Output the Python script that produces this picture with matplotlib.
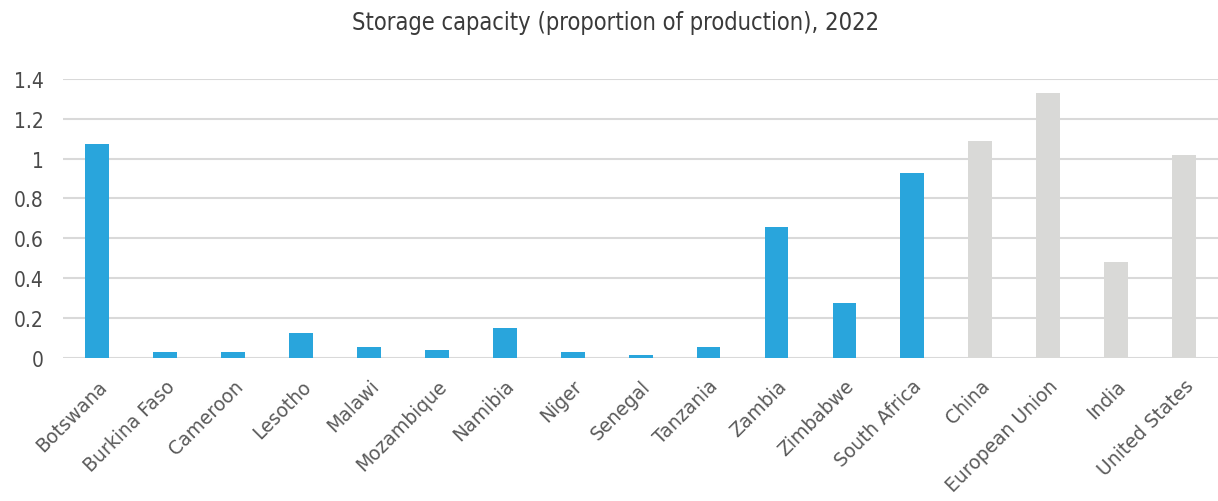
import numpy as np
import matplotlib.pyplot as plt
from matplotlib.ticker import FuncFormatter

plt.rcParams['font.family'] = ['DejaVu Sans']

countries = ['Botswana', 'Burkina Faso', 'Cameroon', 'Lesotho', 'Malawi',
             'Mozambique', 'Namibia', 'Niger', 'Senegal', 'Tanzania',
             'Zambia', 'Zimbabwe', 'South Africa', 'China', 'European Union',
             'India', 'United States']
storage = [1.074, 0.03, 0.03, 0.125, 0.055, 0.04, 0.15, 0.03, 0.015, 0.055,
           0.657, 0.275, 0.927, 1.088, 1.33, 0.483, 1.019]
african = [True] * 13 + [False] * 4

blue = '#29a5dc'
grey = '#d9d9d7'
colors = [blue if a else grey for a in african]

fig = plt.figure(figsize=(12.18, 5.02), dpi=100)
ax = fig.add_axes([0.052, 0.285, 0.948, 0.556])

x = np.arange(len(countries))
ax.bar(x, storage, width=0.35, color=colors, zorder=3)

ax.set_xlim(-0.5, len(countries) - 0.5)
ax.set_ylim(0, 1.4)
ax.set_yticks(np.arange(0, 1.41, 0.2))
ax.yaxis.set_major_formatter(FuncFormatter(lambda v, p: f'{v:g}'))
ax.grid(axis='y', color='#d9d9d9', linewidth=1.5, zorder=0)
ax.set_axisbelow(True)
for s in ax.spines.values():
    s.set_visible(False)

ax.tick_params(axis='y', length=0, pad=14)
for lbl in ax.get_yticklabels():
    lbl.set_fontsize(15)
    lbl.set_fontstretch('condensed')
    lbl.set_color('#4a4a4a')

ax.tick_params(axis='x', length=0, pad=13)
ax.set_xticks(x)
ax.set_xticklabels(countries, rotation=45, ha='right', rotation_mode='anchor',
                   fontsize=13.5, color='#5a5a5a')

fig.text(0.505, 0.955, 'Storage capacity (proportion of production), 2022',
         ha='center', va='center', fontsize=17, fontstretch='condensed',
         color='#3a3a3a')

fig.savefig('out.png', dpi=100)
